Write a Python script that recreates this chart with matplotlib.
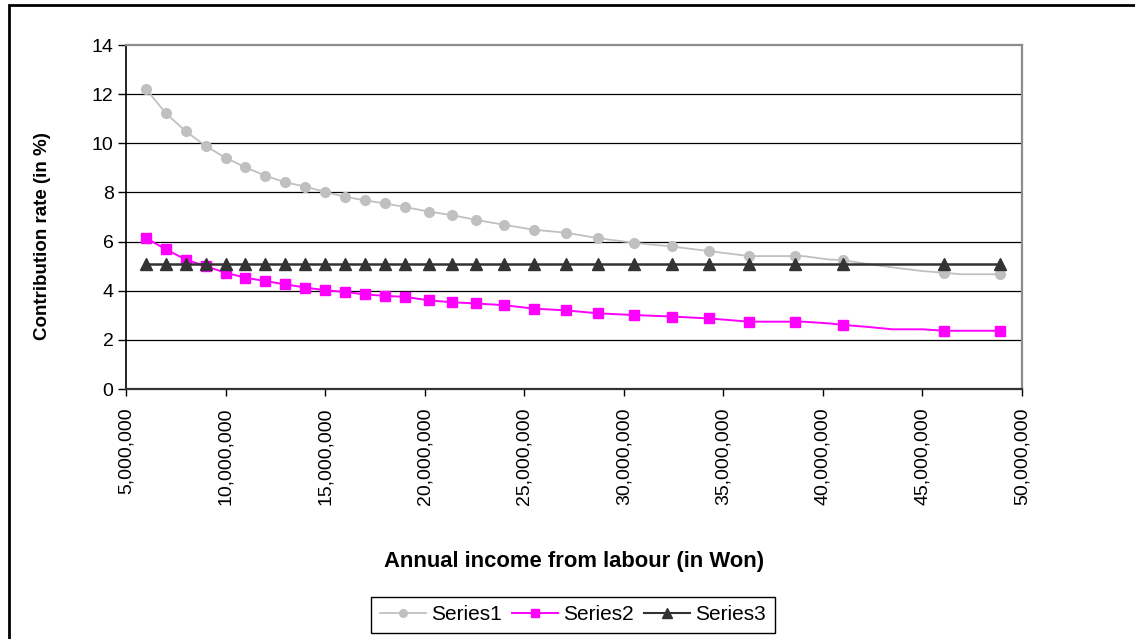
import matplotlib
matplotlib.use("Agg")
import matplotlib.pyplot as plt
from matplotlib.patches import Rectangle
from matplotlib.lines import Line2D
from matplotlib.ticker import FuncFormatter

plt.rcParams['font.family'] = ['Liberation Sans', 'DejaVu Sans']

# Annual income from labour (Won); marked observations
income_marked = [6.0e6, 7.0e6, 8.0e6, 9.0e6, 10.0e6, 11.0e6, 12.0e6, 13.0e6, 14.0e6,
                 15.0e6, 16.0e6, 17.0e6, 18.0e6, 19.0e6, 20.2e6, 21.35e6, 22.6e6,
                 24.0e6, 25.5e6, 27.1e6, 28.7e6, 30.5e6, 32.4e6, 34.3e6, 36.3e6,
                 38.6e6, 41.0e6, 46.1e6, 48.9e6]

# Series 1: full income path (marked points plus unmarked intermediate points)
s1_income = income_marked[:26] + [39.0e6, 40.3e6, 41.0e6, 42.2e6, 43.5e6, 45.0e6,
                                  46.1e6, 46.9e6, 48.9e6]
s1_rate = [12.22, 11.22, 10.49, 9.89, 9.41, 9.02, 8.68, 8.41, 8.24, 8.02, 7.82, 7.68,
           7.55, 7.41, 7.22, 7.08, 6.88, 6.68, 6.48, 6.36, 6.14, 5.95, 5.80, 5.61,
           5.41, 5.41, 5.41, 5.27, 5.25, 5.09, 4.95, 4.80, 4.73, 4.67, 4.67]
s1_marked = list(range(26)) + [28, 32, 34]

# Series 2
s2_income = income_marked[:26] + [39.0e6, 40.3e6, 41.0e6, 42.2e6, 43.5e6, 45.0e6,
                                  46.1e6, 48.9e6]
s2_rate = [6.15, 5.68, 5.27, 5.00, 4.73, 4.53, 4.39, 4.26, 4.13, 4.02, 3.95, 3.85,
           3.79, 3.75, 3.61, 3.53, 3.48, 3.41, 3.27, 3.20, 3.08, 3.01, 2.95, 2.87,
           2.74, 2.74, 2.74, 2.67, 2.61, 2.53, 2.43, 2.43, 2.37, 2.37]
s2_marked = list(range(26)) + [28, 32, 33]

# Series 3: flat rate
s3_income = income_marked
s3_rate = [5.08] * len(income_marked)

y_ticks = [0, 2, 4, 6, 8, 10, 12, 14]
x_ticks = [5e6, 10e6, 15e6, 20e6, 25e6, 30e6, 35e6, 40e6, 45e6, 50e6]

W, H = 1135, 639
fig = plt.figure(figsize=(W / 100, H / 100), dpi=100)

# outer chart border
fig.patches.append(Rectangle((9 / W, -0.2), 1.5, 1.2 - 5 / H, transform=fig.transFigure,
                             fill=False, edgecolor='black', linewidth=2.0, zorder=0))

L, R, T, B = 126, 1022, 45, 389
ax = fig.add_axes([L / W, 1 - B / H, (R - L) / W, (B - T) / H])

ax.set_xlim(5e6, 50e6)
ax.set_ylim(0, 14)
ax.set_yticks(y_ticks)
ax.set_xticks(x_ticks)
ax.xaxis.set_major_formatter(FuncFormatter(lambda v, p: f"{int(round(v)):,}"))

for yv in y_ticks[1:-1]:
    ax.axhline(yv, color='black', linewidth=0.9, zorder=1)

for side in ['top', 'right']:
    ax.spines[side].set_color('#8c8c8c')
    ax.spines[side].set_linewidth(1.6)
ax.spines['left'].set_color('black')
ax.spines['left'].set_linewidth(1.2)
ax.spines['bottom'].set_color('#333333')
ax.spines['bottom'].set_linewidth(1.6)

ax.tick_params(axis='y', direction='out', length=6, width=1, pad=3, labelsize=14)
ax.tick_params(axis='x', direction='out', length=5, width=1, pad=8, labelsize=14,
               labelrotation=90)

c1, c2, c3 = '#c0c0c0', '#ff00ff', '#333333'
ax.plot(s1_income, s1_rate, color=c1, linewidth=1.3, marker='o', markersize=7,
        markevery=s1_marked, markeredgecolor=c1, markerfacecolor=c1, zorder=3)
ax.plot(s2_income, s2_rate, color=c2, linewidth=1.4, marker='s', markersize=6.5,
        markevery=s2_marked, markeredgecolor=c2, markerfacecolor=c2, zorder=4)
ax.plot(s3_income, s3_rate, color=c3, linewidth=1.8, marker='^', markersize=8.5,
        markeredgecolor=c3, markerfacecolor=c3, zorder=5)

fig.text(43 / W, 1 - 236 / H, 'Contribution rate (in %)', rotation=90,
         ha='center', va='center', fontsize=13.5, fontweight='bold')
fig.text(574 / W, 1 - 561 / H, 'Annual income from labour (in Won)',
         ha='center', va='center', fontsize=15.8, fontweight='bold')

handles = [
    Line2D([], [], color=c1, linewidth=1.3, marker='o', markersize=5.5, label='Series1'),
    Line2D([], [], color=c2, linewidth=1.4, marker='s', markersize=5.5, label='Series2'),
    Line2D([], [], color=c3, linewidth=1.5, marker='^', markersize=6.5, label='Series3'),
]
leg = fig.legend(handles=handles, loc='center', bbox_to_anchor=(573 / W, 1 - 615 / H),
                 ncol=3, fontsize=15, frameon=True, fancybox=False, framealpha=1,
                 edgecolor='black', borderpad=0.42, handlelength=2.2,
                 handletextpad=0.25, columnspacing=0.5, borderaxespad=0)
leg.get_frame().set_linewidth(1.0)

fig.savefig('out.png', dpi=100)
